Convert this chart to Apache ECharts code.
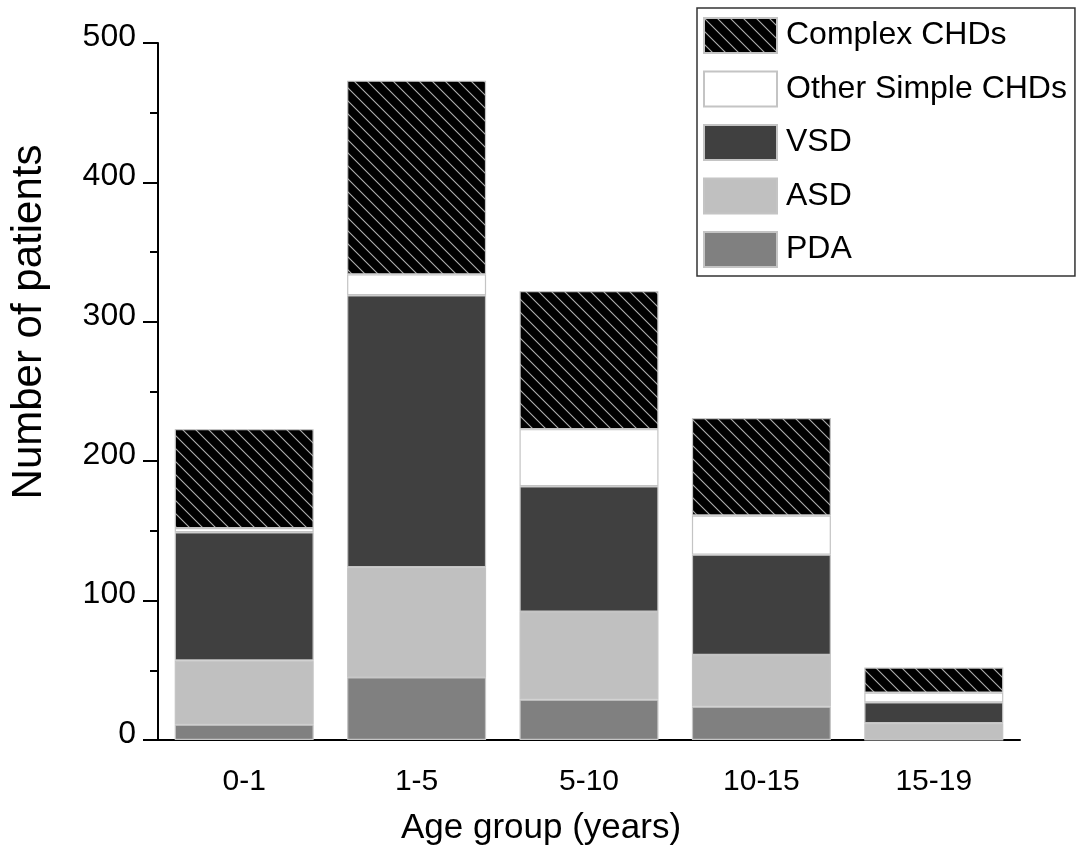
<!DOCTYPE html>
<html>
<head>
<meta charset="utf-8">
<script src="https://cdn.jsdelivr.net/npm/echarts@6/dist/echarts.min.js"></script>
<style>
html,body{margin:0;padding:0;background:#fff;}
#chart{width:1080px;height:850px;}
</style>
</head>
<body>
<div id="chart"></div>
<script>
const categories = ['0-1', '1-5', '5-10', '10-15', '15-19'];
const pda = [11, 45, 29, 24, 0];
const asd = [46, 79, 63, 37, 12];
const vsd = [92, 195, 90, 72, 15];
const otherSimple = [3, 15, 41, 28, 7];
const complexCHD = [71, 139, 99, 70, 18];
const legendOrder = ['Complex CHDs', 'Other Simple CHDs', 'VSD', 'ASD', 'PDA'];

const FONT = '"Liberation Sans", Arial, sans-serif';

function hatch() {
  const s = 13;
  const c = document.createElement('canvas');
  c.width = s; c.height = s;
  const ctx = c.getContext('2d');
  ctx.fillStyle = '#000';
  ctx.fillRect(0, 0, s, s);
  ctx.strokeStyle = '#b0b0b0';
  ctx.lineWidth = 1.1;
  [-s, 0, s].forEach(off => {
    ctx.beginPath();
    ctx.moveTo(-2, off - 2);
    ctx.lineTo(s + 2, off + s + 2);
    ctx.stroke();
  });
  return c;
}

const border = { borderColor: '#c4c4c4', borderWidth: 1.2 };

function bar(name, data, color) {
  return {
    name: name, type: 'bar', stack: 'all', data: data,
    barWidth: 139,
    itemStyle: Object.assign({ color: color }, border),
    emphasis: { disabled: true }
  };
}

const chart = echarts.init(document.getElementById('chart'), null, { renderer: 'canvas' });
chart.setOption({
  backgroundColor: '#fff',
  animation: false,
  grid: { left: 158, right: 60, top: 43, bottom: 110 },
  legend: {
    data: legendOrder,
    orient: 'vertical',
    left: 697, top: 8,
    padding: [9, 8, 8, 6],
    borderColor: '#333', borderWidth: 1.5,
    itemWidth: 73, itemHeight: 35, itemGap: 16.5,
    icon: 'rect',
    textStyle: { fontFamily: FONT, fontSize: 32, color: '#000', padding: [2, 0, 0, 4] }
  },
  xAxis: [{
    type: 'category', data: categories, position: 'bottom',
    axisLine: { lineStyle: { color: '#000', width: 2 } },
    axisTick: { alignWithLabel: true, length: 14, lineStyle: { color: '#000', width: 2 } },
    axisLabel: { fontFamily: FONT, fontSize: 30, color: '#000', margin: 27 }
  }, {
    type: 'category', data: categories, position: 'bottom', offset: 0,
    axisLine: { show: false },
    axisTick: { length: 7, lineStyle: { color: '#000', width: 2 } },
    axisLabel: { show: false }
  }],
  yAxis: {
    type: 'value', min: 0, max: 500, interval: 100,
    axisLine: { show: true, lineStyle: { color: '#000', width: 2 } },
    axisTick: { show: true, length: 15, lineStyle: { color: '#000', width: 2 } },
    minorTick: { show: true, splitNumber: 2, length: 8, lineStyle: { color: '#000', width: 2 } },
    splitLine: { show: false },
    axisLabel: { fontFamily: FONT, fontSize: 32, color: '#000', margin: 22, verticalAlign: 'bottom', lineHeight: 12 }
  },
  graphic: [{
    type: 'text', x: 541, y: 828,
    style: { text: 'Age group (years)', font: '35px ' + FONT, fill: '#000', align: 'center', verticalAlign: 'middle' }
  }, {
    type: 'text', x: 29, y: 322, rotation: Math.PI / 2,
    style: { text: 'Number of patients', font: '42px ' + FONT, fill: '#000', align: 'center', verticalAlign: 'middle' }
  }],
  series: [
    bar('PDA', pda, '#808080'),
    bar('ASD', asd, '#c0c0c0'),
    bar('VSD', vsd, '#404040'),
    bar('Other Simple CHDs', otherSimple, '#ffffff'),
    bar('Complex CHDs', complexCHD, { image: hatch(), repeat: 'repeat' })
  ]
});
</script>
</body>
</html>
